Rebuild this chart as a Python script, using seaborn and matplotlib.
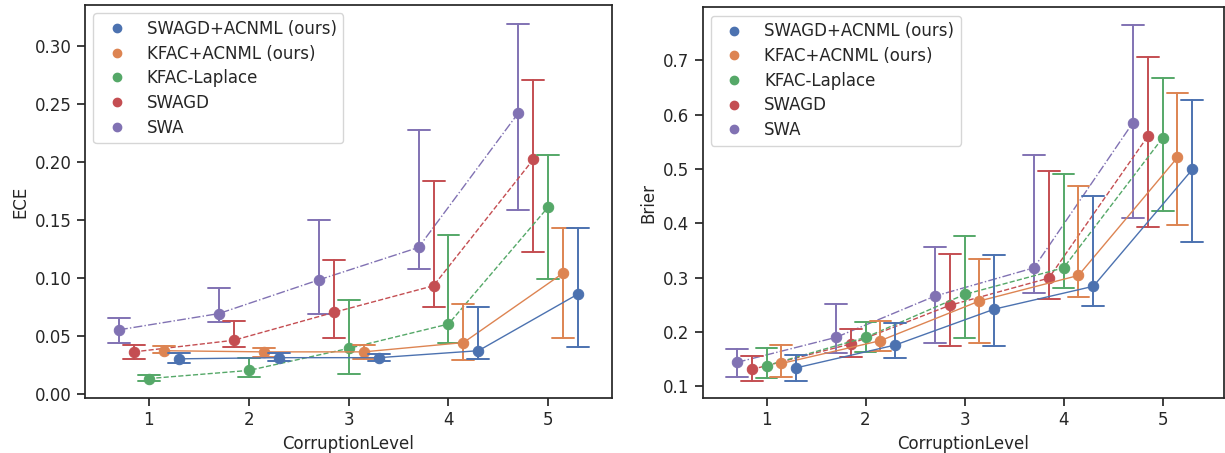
import numpy as np
import pandas as pd
import matplotlib
matplotlib.use('Agg')
import matplotlib.pyplot as plt
from matplotlib.lines import Line2D
import seaborn as sns

# Data (point, lower and upper error bar)
levels = [1, 2, 3, 4, 5]
methods = ['SWA', 'SWAGD', 'KFAC-Laplace', 'KFAC+ACNML (ours)', 'SWAGD+ACNML (ours)']
legend_order = ['SWAGD+ACNML (ours)', 'KFAC+ACNML (ours)', 'KFAC-Laplace', 'SWAGD', 'SWA']

ece_mid = {
    'SWA': [0.055, 0.069, 0.098, 0.126, 0.242],
    'SWAGD': [0.036, 0.046, 0.070, 0.093, 0.202],
    'KFAC-Laplace': [0.013, 0.020, 0.039, 0.060, 0.161],
    'KFAC+ACNML (ours)': [0.037, 0.036, 0.036, 0.044, 0.104],
    'SWAGD+ACNML (ours)': [0.030, 0.031, 0.031, 0.037, 0.086],
}
ece_lo = {
    'SWA': [0.044, 0.062, 0.069, 0.107, 0.158],
    'SWAGD': [0.030, 0.040, 0.048, 0.075, 0.122],
    'KFAC-Laplace': [0.011, 0.014, 0.017, 0.044, 0.099],
    'KFAC+ACNML (ours)': [0.035, 0.032, 0.030, 0.029, 0.048],
    'SWAGD+ACNML (ours)': [0.026, 0.028, 0.028, 0.030, 0.040],
}
ece_hi = {
    'SWA': [0.065, 0.091, 0.150, 0.227, 0.319],
    'SWAGD': [0.042, 0.063, 0.115, 0.183, 0.270],
    'KFAC-Laplace': [0.016, 0.031, 0.081, 0.137, 0.206],
    'KFAC+ACNML (ours)': [0.041, 0.039, 0.042, 0.077, 0.143],
    'SWAGD+ACNML (ours)': [0.035, 0.035, 0.034, 0.075, 0.143],
}

brier_mid = {
    'SWA': [0.144, 0.190, 0.266, 0.318, 0.585],
    'SWAGD': [0.131, 0.178, 0.249, 0.299, 0.560],
    'KFAC-Laplace': [0.138, 0.190, 0.269, 0.318, 0.557],
    'KFAC+ACNML (ours)': [0.142, 0.184, 0.257, 0.304, 0.521],
    'SWAGD+ACNML (ours)': [0.134, 0.176, 0.242, 0.284, 0.499],
}
brier_lo = {
    'SWA': [0.117, 0.162, 0.179, 0.271, 0.409],
    'SWAGD': [0.110, 0.154, 0.174, 0.260, 0.394],
    'KFAC-Laplace': [0.115, 0.163, 0.189, 0.281, 0.423],
    'KFAC+ACNML (ours)': [0.117, 0.165, 0.180, 0.265, 0.396],
    'SWAGD+ACNML (ours)': [0.110, 0.152, 0.174, 0.248, 0.365],
}
brier_hi = {
    'SWA': [0.168, 0.251, 0.357, 0.525, 0.765],
    'SWAGD': [0.156, 0.205, 0.343, 0.497, 0.706],
    'KFAC-Laplace': [0.170, 0.219, 0.377, 0.490, 0.667],
    'KFAC+ACNML (ours)': [0.176, 0.221, 0.334, 0.468, 0.639],
    'SWAGD+ACNML (ours)': [0.157, 0.217, 0.341, 0.450, 0.626],
}

colors = sns.color_palette('deep')
palette = {
    'SWAGD+ACNML (ours)': colors[0],
    'KFAC+ACNML (ours)': colors[1],
    'KFAC-Laplace': colors[2],
    'SWAGD': colors[3],
    'SWA': colors[4],
}
line_styles = ['-.', '--', '--', '-', '-']


def to_long(mid, lo, hi):
    rows = []
    for m in methods:
        for i, lev in enumerate(levels):
            for v in (lo[m][i], mid[m][i], hi[m][i]):
                rows.append({'CorruptionLevel': lev, 'method': m, 'value': v})
    return pd.DataFrame(rows)


sns.set_theme(style='ticks', palette='deep')
plt.rcParams['font.family'] = ['DejaVu Sans']
plt.rcParams.update({'font.size': 12, 'axes.labelsize': 12,
                     'xtick.labelsize': 12, 'ytick.labelsize': 12,
                     'legend.fontsize': 12})

fig = plt.figure(figsize=(12.25, 4.53), dpi=100)
ax1 = fig.add_axes([0.0694, 0.1208, 0.4300, 0.8682])
ax2 = fig.add_axes([0.5736, 0.1208, 0.4256, 0.8627])

panels = [(ax1, ece_mid, ece_lo, ece_hi, 'ECE'),
          (ax2, brier_mid, brier_lo, brier_hi, 'Brier')]

for ax, mid, lo, hi, name in panels:
    df = to_long(mid, lo, hi)
    sns.pointplot(data=df, x='CorruptionLevel', y='value', hue='method',
                  hue_order=methods, palette=palette, dodge=0.6,
                  estimator=np.median, errorbar=lambda v: (v.min(), v.max()),
                  linestyles=line_styles, linewidth=1, markersize=7.5,
                  capsize=0.22, err_kws={'linewidth': 1.4}, legend=False, ax=ax)
    ax.set_ylabel(name)
    ax.set_xlabel('CorruptionLevel')
    handles = [Line2D([], [], marker='o', linestyle='', markersize=6,
                      color=palette[m]) for m in legend_order]
    ax.legend(handles, legend_order, loc='upper left', labelspacing=0.4)

ax1.set_xlim(-0.64, 4.635)
ax1.set_ylim(-0.004, 0.335)
ax1.set_yticks([0.0, 0.05, 0.10, 0.15, 0.20, 0.25, 0.30])
ax1.set_yticklabels(['0.00', '0.05', '0.10', '0.15', '0.20', '0.25', '0.30'])
ax2.set_xlim(-0.645, 4.62)
ax2.set_ylim(0.078, 0.797)
ax2.set_yticks([0.1, 0.2, 0.3, 0.4, 0.5, 0.6, 0.7])

fig.savefig('out.png', dpi=100)
